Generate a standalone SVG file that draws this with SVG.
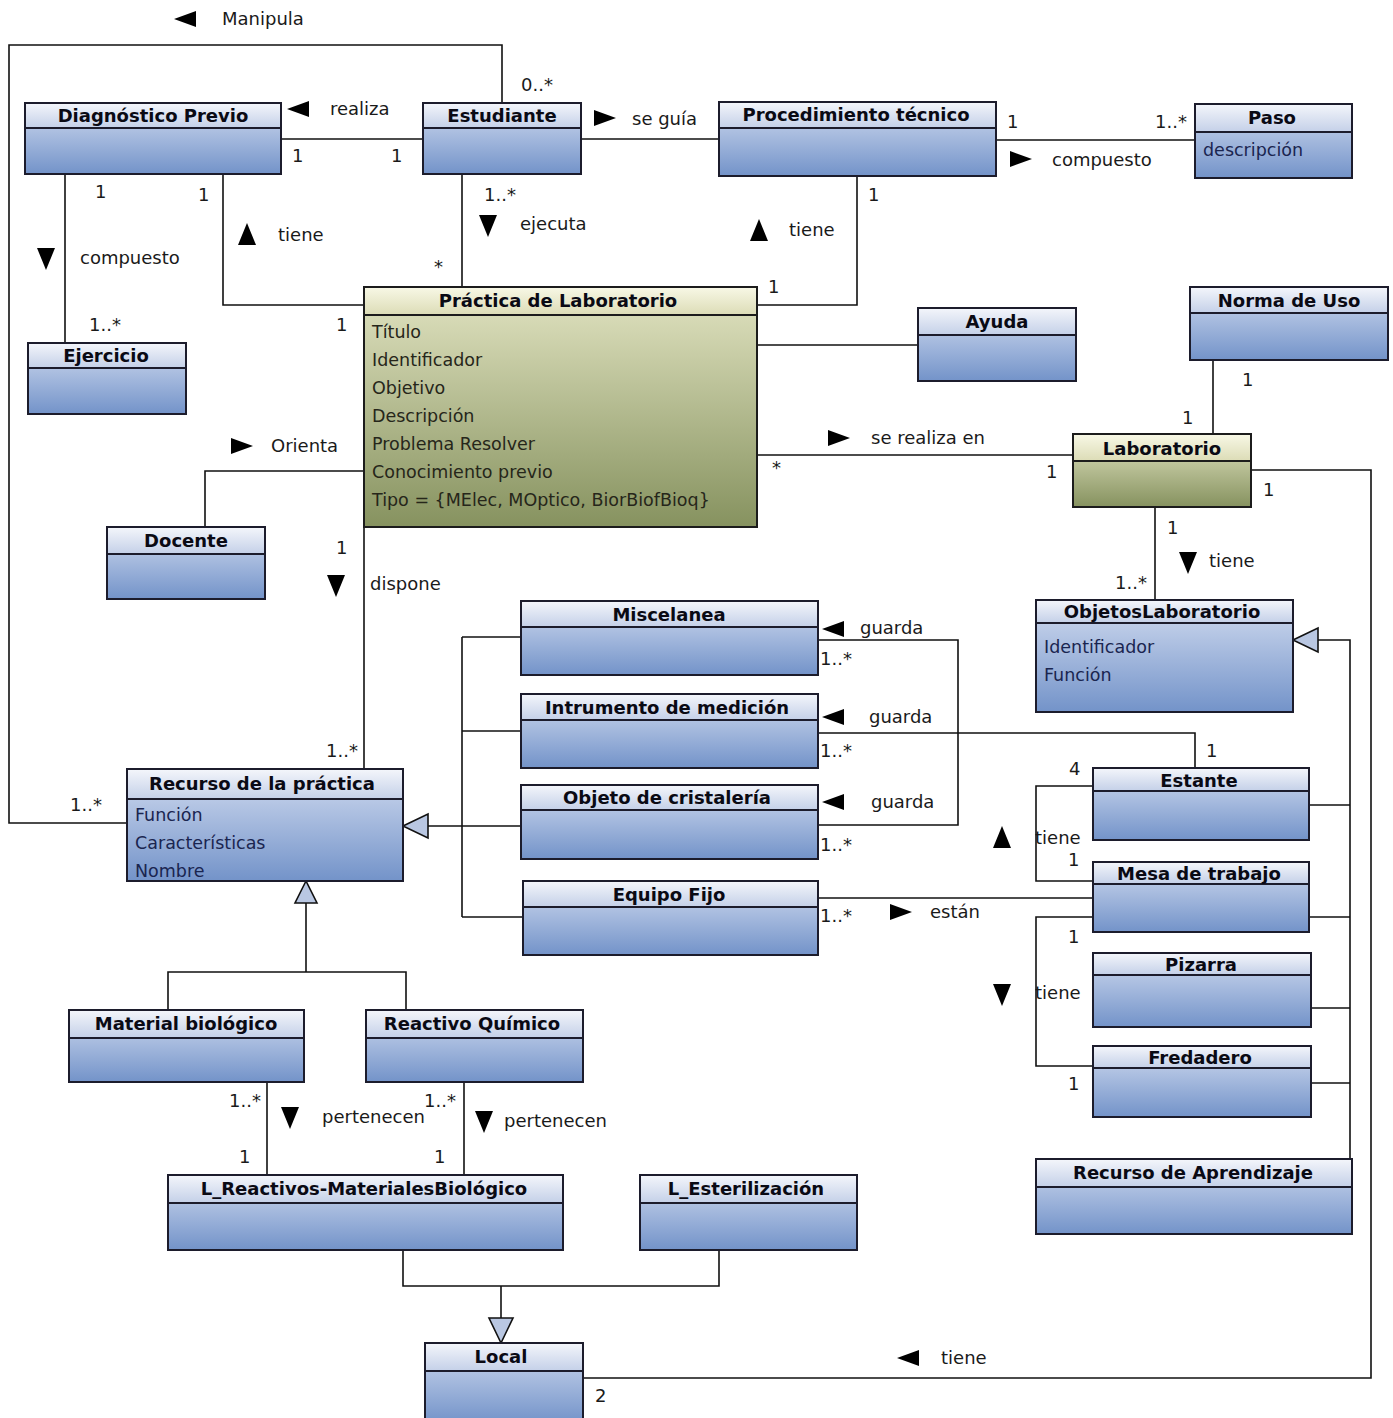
<svg xmlns="http://www.w3.org/2000/svg" xmlns:xlink="http://www.w3.org/1999/xlink" width="1393" height="1418" viewBox="0 0 1393 1418">
<defs>
<linearGradient id="gBody" x1="0" y1="0" x2="0" y2="1"><stop offset="0" stop-color="#d2dcf0"/><stop offset="1" stop-color="#7393c9"/></linearGradient>
<linearGradient id="gHead" x1="0" y1="0" x2="0" y2="1"><stop offset="0" stop-color="#f4f6fb"/><stop offset="1" stop-color="#c4d0e8"/></linearGradient>
<linearGradient id="oBody" x1="0" y1="0" x2="0" y2="1"><stop offset="0" stop-color="#e2e4c2"/><stop offset="1" stop-color="#86925f"/></linearGradient>
<linearGradient id="oHead" x1="0" y1="0" x2="0" y2="1"><stop offset="0" stop-color="#f8f8e6"/><stop offset="1" stop-color="#dcdcb6"/></linearGradient>
<path id="triR" d="M-11,-8 L11,0 L-11,8 Z"/>
<path id="triL" d="M11,-8 L-11,0 L11,8 Z"/>
<path id="triD" d="M-9,-11 L9,-11 L0,11 Z"/>
<path id="triU" d="M-9,11 L9,11 L0,-11 Z"/>
</defs>
<style>
.body{fill:url(#gBody);stroke:#1c1c2c;stroke-width:2}
.head{fill:url(#gHead);stroke:#1c1c2c;stroke-width:2}
.obody{fill:url(#oBody);stroke:#1c1c1c;stroke-width:2}
.ohead{fill:url(#oHead);stroke:#1c1c1c;stroke-width:2}
.title{font-family:"DejaVu Sans",sans-serif;font-weight:bold;font-size:18px;fill:#0a0a14;text-anchor:middle}
.attr{font-family:"DejaVu Sans",sans-serif;font-size:17.5px;fill:#1a2550}
.oattr{font-family:"DejaVu Sans",sans-serif;font-size:17.5px;fill:#26261a}
.lbl{font-family:"DejaVu Sans",sans-serif;font-size:18px;fill:#1a1a1a}
.conn{fill:none;stroke:#111;stroke-width:1.6}
.gen{fill:#b9c7e2;stroke:#111;stroke-width:1.6}
.tri{fill:#000}
</style>

<g id="connectors">
<polyline class="conn" points="502,103 502,45 9,45 9,823 127,823"/>
<line class="conn" x1="281" y1="139" x2="423" y2="139"/>
<line class="conn" x1="581" y1="139" x2="719" y2="139"/>
<line class="conn" x1="996" y1="140" x2="1195" y2="140"/>
<line class="conn" x1="65" y1="174" x2="65" y2="343"/>
<polyline class="conn" points="223,174 223,305 364,305"/>
<line class="conn" x1="462" y1="174" x2="462" y2="287"/>
<polyline class="conn" points="857,176 857,305 757,305"/>
<line class="conn" x1="757" y1="345" x2="918" y2="345"/>
<line class="conn" x1="757" y1="455" x2="1073" y2="455"/>
<line class="conn" x1="1213" y1="360" x2="1213" y2="434"/>
<line class="conn" x1="1155" y1="507" x2="1155" y2="600"/>
<polyline class="conn" points="1251,470 1371,470 1371,1378 583,1378"/>
<polyline class="conn" points="364,471 205,471 205,527"/>
<line class="conn" x1="364" y1="527" x2="364" y2="769"/>
<polyline class="conn" points="428,826 521,826"/>
<line class="conn" x1="462" y1="637" x2="462" y2="917"/>
<line class="conn" x1="462" y1="637" x2="521" y2="637"/>
<line class="conn" x1="462" y1="731" x2="521" y2="731"/>
<line class="conn" x1="462" y1="917" x2="523" y2="917"/>
<polygon class="gen" points="403,826 428,814 428,838"/>
<polyline class="conn" points="818,640 958,640 958,825 818,825"/>
<polyline class="conn" points="818,733 1195,733 1195,768"/>
<line class="conn" x1="818" y1="898" x2="1093" y2="898"/>
<polyline class="conn" points="1093,786 1036,786 1036,881 1093,881"/>
<polyline class="conn" points="1093,917 1036,917 1036,1066 1093,1066"/>
<polyline class="conn" points="1318,640 1350,640 1350,1159"/>
<line class="conn" x1="1309" y1="805" x2="1350" y2="805"/>
<line class="conn" x1="1309" y1="917" x2="1350" y2="917"/>
<line class="conn" x1="1311" y1="1008" x2="1350" y2="1008"/>
<line class="conn" x1="1311" y1="1083" x2="1350" y2="1083"/>
<polygon class="gen" points="1293,640 1318,628 1318,652"/>
<polyline class="conn" points="306,903 306,972"/>
<polyline class="conn" points="168,1010 168,972 406,972 406,1010"/>
<polygon class="gen" points="306,881 295,903 317,903"/>
<line class="conn" x1="267" y1="1082" x2="267" y2="1175"/>
<line class="conn" x1="464" y1="1082" x2="464" y2="1175"/>
<polyline class="conn" points="403,1250 403,1286 719,1286 719,1250"/>
<line class="conn" x1="501" y1="1286" x2="501" y2="1318"/>
<polygon class="gen" points="501,1343 489,1318 513,1318"/>

<use class="tri" xlink:href="#triL" x="185" y="19"/>
<use class="tri" xlink:href="#triL" x="298" y="109"/>
<use class="tri" xlink:href="#triR" x="605" y="118"/>
<use class="tri" xlink:href="#triR" x="1021" y="159"/>
<use class="tri" xlink:href="#triD" x="46" y="259"/>
<use class="tri" xlink:href="#triU" x="247" y="234"/>
<use class="tri" xlink:href="#triD" x="488" y="226"/>
<use class="tri" xlink:href="#triU" x="759" y="230"/>
<use class="tri" xlink:href="#triR" x="839" y="438"/>
<use class="tri" xlink:href="#triD" x="1188" y="563"/>
<use class="tri" xlink:href="#triR" x="242" y="446"/>
<use class="tri" xlink:href="#triD" x="336" y="586"/>
<use class="tri" xlink:href="#triL" x="833" y="629"/>
<use class="tri" xlink:href="#triL" x="833" y="717"/>
<use class="tri" xlink:href="#triL" x="833" y="802"/>
<use class="tri" xlink:href="#triR" x="901" y="912"/>
<use class="tri" xlink:href="#triU" x="1002" y="837"/>
<use class="tri" xlink:href="#triD" x="1002" y="995"/>
<use class="tri" xlink:href="#triD" x="290" y="1118"/>
<use class="tri" xlink:href="#triD" x="484" y="1122"/>
<use class="tri" xlink:href="#triL" x="908" y="1358"/>

<text class="lbl" x="222" y="25">Manipula</text>
<text class="lbl" x="330" y="115">realiza</text>
<text class="lbl" x="632" y="125">se guía</text>
<text class="lbl" x="1052" y="166">compuesto</text>
<text class="lbl" x="80" y="264">compuesto</text>
<text class="lbl" x="278" y="241">tiene</text>
<text class="lbl" x="520" y="230">ejecuta</text>
<text class="lbl" x="789" y="236">tiene</text>
<text class="lbl" x="871" y="444">se realiza en</text>
<text class="lbl" x="1209" y="567">tiene</text>
<text class="lbl" x="271" y="452">Orienta</text>
<text class="lbl" x="370" y="590">dispone</text>
<text class="lbl" x="860" y="634">guarda</text>
<text class="lbl" x="869" y="723">guarda</text>
<text class="lbl" x="871" y="808">guarda</text>
<text class="lbl" x="930" y="918">están</text>
<text class="lbl" x="1035" y="844">tiene</text>
<text class="lbl" x="1035" y="999">tiene</text>
<text class="lbl" x="322" y="1123">pertenecen</text>
<text class="lbl" x="504" y="1127">pertenecen</text>
<text class="lbl" x="941" y="1364">tiene</text>

<text class="lbl" x="521" y="91">0..*</text>
<text class="lbl" x="292" y="162">1</text>
<text class="lbl" x="391" y="162">1</text>
<text class="lbl" x="1007" y="128">1</text>
<text class="lbl" x="1155" y="128">1..*</text>
<text class="lbl" x="95" y="198">1</text>
<text class="lbl" x="198" y="201">1</text>
<text class="lbl" x="89" y="331">1..*</text>
<text class="lbl" x="484" y="201">1..*</text>
<text class="lbl" x="434" y="273">*</text>
<text class="lbl" x="868" y="201">1</text>
<text class="lbl" x="768" y="293">1</text>
<text class="lbl" x="336" y="331">1</text>
<text class="lbl" x="772" y="474">*</text>
<text class="lbl" x="1046" y="478">1</text>
<text class="lbl" x="1242" y="386">1</text>
<text class="lbl" x="1182" y="424">1</text>
<text class="lbl" x="1263" y="496">1</text>
<text class="lbl" x="1167" y="534">1</text>
<text class="lbl" x="1115" y="589">1..*</text>
<text class="lbl" x="336" y="554">1</text>
<text class="lbl" x="326" y="757">1..*</text>
<text class="lbl" x="70" y="811">1..*</text>
<text class="lbl" x="820" y="665">1..*</text>
<text class="lbl" x="820" y="757">1..*</text>
<text class="lbl" x="820" y="851">1..*</text>
<text class="lbl" x="820" y="922">1..*</text>
<text class="lbl" x="1206" y="757">1</text>
<text class="lbl" x="1069" y="775">4</text>
<text class="lbl" x="1068" y="866">1</text>
<text class="lbl" x="1068" y="943">1</text>
<text class="lbl" x="1068" y="1090">1</text>
<text class="lbl" x="229" y="1107">1..*</text>
<text class="lbl" x="239" y="1163">1</text>
<text class="lbl" x="424" y="1107">1..*</text>
<text class="lbl" x="434" y="1163">1</text>
<text class="lbl" x="595" y="1402">2</text>
</g>

<g id="diagnostico-previo"><rect class="body" x="25" y="103" width="256" height="71"/><rect class="head" x="25" y="103" width="256" height="25"/><text class="title" x="153" y="122">Diagnóstico Previo</text></g>
<g id="estudiante"><rect class="body" x="423" y="103" width="158" height="71"/><rect class="head" x="423" y="103" width="158" height="25"/><text class="title" x="502" y="122">Estudiante</text></g>
<g id="procedimiento-tecnico"><rect class="body" x="719" y="102" width="277" height="74"/><rect class="head" x="719" y="102" width="277" height="26"/><text class="title" x="856" y="121">Procedimiento técnico</text></g>
<g id="paso"><rect class="body" x="1195" y="104" width="157" height="74"/><rect class="head" x="1195" y="104" width="157" height="28"/><text class="title" x="1272" y="124">Paso</text><text class="attr" x="1203" y="156">descripción</text></g>
<g id="ejercicio"><rect class="body" x="28" y="343" width="158" height="71"/><rect class="head" x="28" y="343" width="158" height="25"/><text class="title" x="106" y="362">Ejercicio</text></g>
<g id="practica-de-laboratorio"><rect class="obody" x="364" y="287" width="393" height="240"/><rect class="ohead" x="364" y="287" width="393" height="28"/><text class="title" x="558" y="307">Práctica de Laboratorio</text>
<text class="oattr" x="372" y="338">Título</text>
<text class="oattr" x="372" y="366">Identificador</text>
<text class="oattr" x="372" y="394">Objetivo</text>
<text class="oattr" x="372" y="422">Descripción</text>
<text class="oattr" x="372" y="450">Problema Resolver</text>
<text class="oattr" x="372" y="478">Conocimiento previo</text>
<text class="oattr" x="372" y="506">Tipo = {MElec, MOptico, BiorBiofBioq}</text></g>
<g id="ayuda"><rect class="body" x="918" y="308" width="158" height="73"/><rect class="head" x="918" y="308" width="158" height="27"/><text class="title" x="997" y="328">Ayuda</text></g>
<g id="norma-de-uso"><rect class="body" x="1190" y="287" width="198" height="73"/><rect class="head" x="1190" y="287" width="198" height="26"/><text class="title" x="1289" y="307">Norma de Uso</text></g>
<g id="laboratorio"><rect class="obody" x="1073" y="434" width="178" height="73"/><rect class="ohead" x="1073" y="434" width="178" height="27"/><text class="title" x="1162" y="455">Laboratorio</text></g>
<g id="docente"><rect class="body" x="107" y="527" width="158" height="72"/><rect class="head" x="107" y="527" width="158" height="27"/><text class="title" x="186" y="547">Docente</text></g>
<g id="miscelanea"><rect class="body" x="521" y="601" width="297" height="74"/><rect class="head" x="521" y="601" width="297" height="26"/><text class="title" x="669" y="621">Miscelanea</text></g>
<g id="intrumento-de-medicion"><rect class="body" x="521" y="694" width="297" height="74"/><rect class="head" x="521" y="694" width="297" height="26"/><text class="title" x="667" y="714">Intrumento de medición</text></g>
<g id="objeto-de-cristaleria"><rect class="body" x="521" y="785" width="297" height="74"/><rect class="head" x="521" y="785" width="297" height="25"/><text class="title" x="667" y="804">Objeto de cristalería</text></g>
<g id="equipo-fijo"><rect class="body" x="523" y="881" width="295" height="74"/><rect class="head" x="523" y="881" width="295" height="26"/><text class="title" x="669" y="901">Equipo Fijo</text></g>
<g id="objetos-laboratorio"><rect class="body" x="1036" y="600" width="257" height="112"/><rect class="head" x="1036" y="600" width="257" height="23"/><text class="title" x="1162" y="618">ObjetosLaboratorio</text><text class="attr" x="1044" y="653">Identificador</text><text class="attr" x="1044" y="681">Función</text></g>
<g id="estante"><rect class="body" x="1093" y="768" width="216" height="72"/><rect class="head" x="1093" y="768" width="216" height="23"/><text class="title" x="1199" y="787">Estante</text></g>
<g id="mesa-de-trabajo"><rect class="body" x="1093" y="862" width="216" height="70"/><rect class="head" x="1093" y="862" width="216" height="22"/><text class="title" x="1199" y="880">Mesa de trabajo</text></g>
<g id="pizarra"><rect class="body" x="1093" y="953" width="218" height="74"/><rect class="head" x="1093" y="953" width="218" height="22"/><text class="title" x="1201" y="971">Pizarra</text></g>
<g id="fredadero"><rect class="body" x="1093" y="1046" width="218" height="71"/><rect class="head" x="1093" y="1046" width="218" height="22"/><text class="title" x="1200" y="1064">Fredadero</text></g>
<g id="recurso-de-aprendizaje"><rect class="body" x="1036" y="1159" width="316" height="75"/><rect class="head" x="1036" y="1159" width="316" height="28"/><text class="title" x="1193" y="1179">Recurso de Aprendizaje</text></g>
<g id="recurso-de-la-practica"><rect class="body" x="127" y="769" width="276" height="112"/><rect class="head" x="127" y="769" width="276" height="30"/><text class="title" x="262" y="790">Recurso de la práctica</text><text class="attr" x="135" y="821">Función</text><text class="attr" x="135" y="849">Características</text><text class="attr" x="135" y="877">Nombre</text></g>
<g id="material-biologico"><rect class="body" x="69" y="1010" width="235" height="72"/><rect class="head" x="69" y="1010" width="235" height="28"/><text class="title" x="186" y="1030">Material biológico</text></g>
<g id="reactivo-quimico"><rect class="body" x="366" y="1010" width="217" height="72"/><rect class="head" x="366" y="1010" width="217" height="28"/><text class="title" x="472" y="1030">Reactivo Químico</text></g>
<g id="l-reactivos"><rect class="body" x="168" y="1175" width="395" height="75"/><rect class="head" x="168" y="1175" width="395" height="28"/><text class="title" x="364" y="1195">L_Reactivos-MaterialesBiológico</text></g>
<g id="l-esterilizacion"><rect class="body" x="640" y="1175" width="217" height="75"/><rect class="head" x="640" y="1175" width="217" height="28"/><text class="title" x="746" y="1195">L_Esterilización</text></g>
<g id="local"><rect class="body" x="425" y="1343" width="158" height="80"/><rect class="head" x="425" y="1343" width="158" height="28"/><text class="title" x="501" y="1363">Local</text></g>
</svg>
